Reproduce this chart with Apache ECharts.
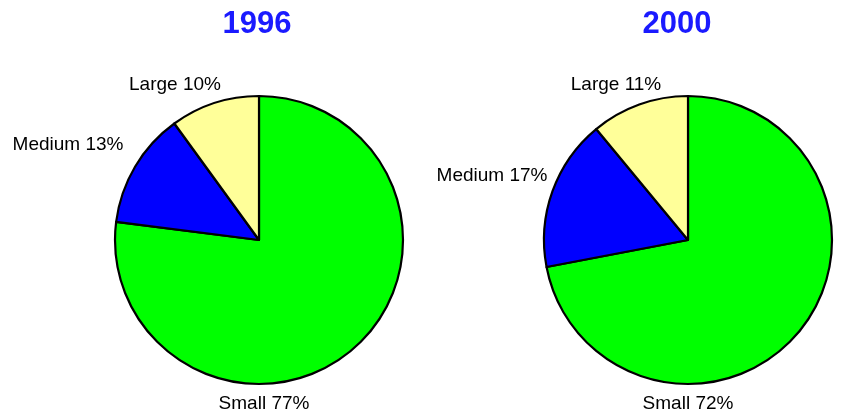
<!DOCTYPE html>
<html><head><meta charset="utf-8">
<script src="https://cdn.jsdelivr.net/npm/echarts@6/dist/echarts.min.js"></script>
<style>html,body{margin:0;padding:0;background:#fff}#c{width:841px;height:415px}</style>
</head><body><div id="c"></div>
<script>
const categories = ['Small', 'Medium', 'Large'];
const years = ['1996', '2000'];
const values1996 = [77, 13, 10];
const values2000 = [72, 17, 11];
const colors = ['#00ff00', '#0000ff', '#ffff99'];

// label placement (pixel anchors of each label, per pie)
const labelPos = [
  [[264, 404], [68, 145], [175, 85]],
  [[688, 404], [492, 176], [616, 85]]
];
const centers = [[259, 240], [688, 240]];
const titleX = [252, 672];

const chart = echarts.init(document.getElementById('c'));
function makeSeries(vals, idx) {
  return {
    type: 'pie',
    center: centers[idx],
    radius: 144,
    startAngle: 90,
    clockwise: true,
    animation: false,
    silent: true,
    data: categories.map((c, i) => ({ name: c, value: vals[i], itemStyle: { color: colors[i] } })),
    itemStyle: { borderColor: '#000', borderWidth: 2.2 },
    label: {
      show: true, position: 'outside', overflow: 'none', width: 200,
      formatter: p => p.name + ' ' + p.value + '%',
      fontFamily: 'Liberation Sans, Arial, sans-serif', fontSize: 19, color: '#000'
    },
    labelLine: { show: false },
    labelLayout: function (p) {
      const pos = labelPos[idx][p.dataIndex];
      return { x: pos[0], y: pos[1], align: 'center', verticalAlign: 'middle' };
    }
  };
}
chart.setOption({
  backgroundColor: '#fff',
  title: years.map((y, i) => ({
    text: y, left: titleX[i], top: 4, textAlign: 'center',
    textStyle: { fontFamily: 'Liberation Sans, Arial, sans-serif', fontSize: 31, fontWeight: 'bold', color: '#1a1aff' }
  })),
  series: [makeSeries(values1996, 0), makeSeries(values2000, 1)]
});
</script>
</body></html>
